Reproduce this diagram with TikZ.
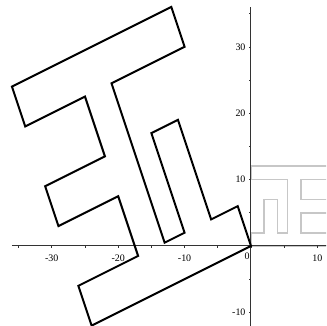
\documentclass[tikz,border=0pt]{standalone}
\usepackage{fontspec}
\setmainfont{Liberation Serif}
\begin{document}
\begin{tikzpicture}[x=6.64bp,y=6.64bp,
  shapeline/.style={line width=2bp, line join=miter, draw=black},
  origline/.style={line width=1.7bp, line join=miter, draw=black!22},
  axisline/.style={line width=1bp, draw=black!80},
  tickmark/.style={line width=0.6bp, draw=black!80},
  ticklabel/.style={font=\fontsize{10}{11}\selectfont, inner sep=0pt}]
\useasboundingbox (-37.80,-12.05) rectangle (11.30,37.05);
\clip (-37.80,-12.05) rectangle (11.30,37.05);
% original shape (grey)
\draw[origline] (0,0) -- (12,0) -- (12,2) -- (7.5,2) -- (7.5,5) -- (12,5) -- (12,7)
  -- (7.5,7) -- (7.5,10) -- (12,10) -- (12,12) -- (0,12) -- (0,10) -- (5.5,10)
  -- (5.5,2) -- (4,2) -- (4,7) -- (2,7) -- (2,2) -- (0,2) -- cycle;
% axes
\coordinate (xl) at (-36,0);
\coordinate (xr) at (12,0);
\coordinate (yb) at (0,-12.2);
\coordinate (yt) at (0,36);
\draw[axisline] (xl) -- (xr);
\draw[axisline] (yb) -- (yt);
\foreach \t in {-35,-30,...,10} \draw[tickmark] (\t,0) -- (\t,-0.3);
\foreach \t in {-10,-5,...,35} \draw[tickmark] (0,\t) -- (-0.3,\t);
\foreach \t in {-30,-20,-10,10} \node[ticklabel] (xlab\t) at (\t,-1.85) {\t};
\node[ticklabel] (xlab0) at (-0.6,-1.5) {0};
\foreach \t in {-10,10,20,30} \node[ticklabel, anchor=east] (ylab\t) at (-0.8,\t) {\t};
% transformed shape (black)
\draw[shapeline] (0,0) -- (-24,-12) -- (-26,-6) -- (-17,-1.5) -- (-20,7.5) -- (-29,3)
  -- (-31,9) -- (-22,13.5) -- (-25,22.5) -- (-34,18) -- (-36,24) -- (-12,36)
  -- (-10,30) -- (-21,24.5) -- (-13,0.5) -- (-10,2) -- (-15,17) -- (-11,19)
  -- (-6,4) -- (-2,6) -- cycle;
\end{tikzpicture}
\end{document}
